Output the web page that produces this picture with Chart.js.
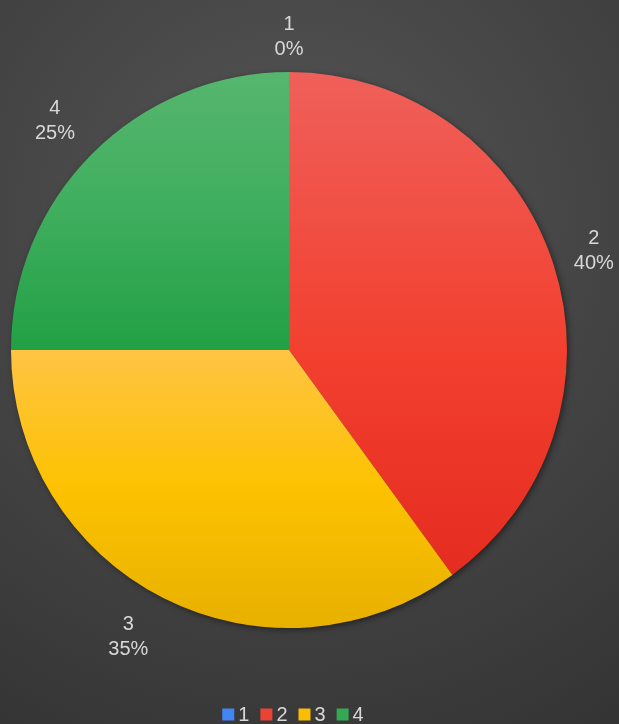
<!DOCTYPE html>
<html>
<head>
<meta charset="utf-8">
<script src="https://cdn.jsdelivr.net/npm/chart.js@4"></script>
<style>
  html, body { margin: 0; padding: 0; background: #3d3d3d; }
  #wrap { width: 619px; height: 724px; position: relative; }
</style>
</head>
<body>
<div id="wrap"><canvas id="chart-pie"></canvas></div>
<script>
// data
const categories = ['1', '2', '3', '4'];
const values = [0, 40, 35, 25];
const legendColors = ['#4285f4', '#ea4335', '#fbbc04', '#34a853'];
// gradient stops (0 = top of pie, 1 = bottom) for each slice
const sliceShades = [
    [[0, '#6a9ef8'], [0.5, '#4285f4'], [1, '#2f6fdc']],
    [[0, '#ef605a'], [0.5, '#f2402f'], [0.9, '#e52c20'], [1, '#dc281c']],
    [[0, '#ffd070'], [0.5, '#ffc443'], [0.75, '#fcc200'], [1, '#e8b000']],
    [[0, '#56b66e'], [0.25, '#3fae5e'], [0.5, '#22a045'], [1, '#1a8a3a']]
];

const textColor = '#d8d8d8';
const fontFamily = '"Liberation Sans", Arial, sans-serif';
Chart.defaults.font.family = fontFamily;

function sliceFill(ctx) {
    const chart = ctx.chart;
    const area = chart.chartArea;
    const shades = sliceShades[ctx.dataIndex];
    if (!area) return legendColors[ctx.dataIndex];
    const cy = (area.top + area.bottom) / 2;
    const r = Math.min(area.right - area.left, area.bottom - area.top) / 2;
    const g = chart.ctx.createLinearGradient(0, cy - r, 0, cy + r);
    shades.forEach(s => g.addColorStop(s[0], s[1]));
    return g;
}

const backdrop = {
    id: 'backdrop',
    beforeDraw(chart) {
        const {ctx, width, height} = chart;
        ctx.save();
        const g = ctx.createRadialGradient(width * 0.47, height * 0.3, 10, width * 0.47, height * 0.3, height * 0.85);
        g.addColorStop(0, '#555555');
        g.addColorStop(1, '#333333');
        ctx.fillStyle = g;
        ctx.fillRect(0, 0, width, height);
        ctx.restore();
    },
    beforeDatasetsDraw(chart) {
        const arc = chart.getDatasetMeta(0).data.find(a => a.outerRadius > 0);
        if (!arc) return;
        const {ctx} = chart;
        ctx.save();
        ctx.shadowColor = 'rgba(0,0,0,0.55)';
        ctx.shadowBlur = 7;
        ctx.shadowOffsetX = 2;
        ctx.shadowOffsetY = 2;
        ctx.fillStyle = '#3a3a3a';
        ctx.beginPath();
        ctx.arc(arc.x, arc.y, arc.outerRadius - 1, 0, Math.PI * 2);
        ctx.fill();
        ctx.restore();
    }
};

// two-line labels (name / percent) outside each slice
const outsideLabels = {
    id: 'outsideLabels',
    afterDatasetsDraw(chart) {
        const {ctx} = chart;
        const meta = chart.getDatasetMeta(0);
        const total = values.reduce((a, b) => a + b, 0);
        const lineGap = 25;
        ctx.save();
        ctx.font = '20px ' + fontFamily;
        ctx.fillStyle = textColor;
        ctx.textAlign = 'center';
        ctx.textBaseline = 'middle';
        meta.data.forEach((arc, i) => {
            const mid = (arc.startAngle + arc.endAngle) / 2;
            const dx = Math.cos(mid), dy = Math.sin(mid);
            const ax = arc.x + dx * (arc.outerRadius + 12);
            const ay = arc.y + dy * (arc.outerRadius + 12);
            const pct = Math.round(values[i] / total * 100) + '%';
            const halfW = Math.max(ctx.measureText(categories[i]).width, ctx.measureText(pct).width) / 2;
            const x = ax + (Math.abs(dx) > 0.05 ? Math.sign(dx) * (halfW + 9) : 0);
            const y = ay + Math.sign(dy) * 26 * Math.min(1, Math.abs(dy) / 0.7) + 2.5;
            ctx.fillText(categories[i], x, y - lineGap / 2);
            ctx.fillText(pct, x, y + lineGap / 2);
        });
        ctx.restore();
    }
};

// compact legend row under the pie
const bottomLegend = {
    id: 'bottomLegend',
    afterDraw(chart) {
        const {ctx} = chart;
        const arc = chart.getDatasetMeta(0).data[1];
        const box = 12, gapText = 4, gapItem = 11;
        ctx.save();
        ctx.font = '20px ' + fontFamily;
        ctx.textBaseline = 'middle';
        ctx.textAlign = 'left';
        const widths = categories.map(c => ctx.measureText(c).width);
        const total = widths.reduce((a, w) => a + box + gapText + w, 0) + gapItem * (categories.length - 1);
        let x = arc.x + 4 - total / 2;
        const y = chart.height - 9.5;
        categories.forEach((c, i) => {
            ctx.fillStyle = legendColors[i];
            ctx.fillRect(x, y - box / 2, box, box);
            ctx.fillStyle = textColor;
            ctx.fillText(c, x + box + gapText, y + 1);
            x += box + gapText + widths[i] + gapItem;
        });
        ctx.restore();
    }
};

const pieChart = new Chart(document.getElementById('chart-pie'), {
    type: 'pie',
    data: {
        labels: categories,
        datasets: [{
            data: values,
            backgroundColor: sliceFill,
            borderWidth: 0
        }]
    },
    options: {
        responsive: true,
        maintainAspectRatio: false,
        animation: false,
        layout: {
            padding: { left: 11, right: 52, top: 0, bottom: 24 }
        },
        plugins: {
            tooltip: { enabled: false },
            legend: { display: false }
        }
    },
    plugins: [backdrop, outsideLabels, bottomLegend]
});
</script>
</body>
</html>
